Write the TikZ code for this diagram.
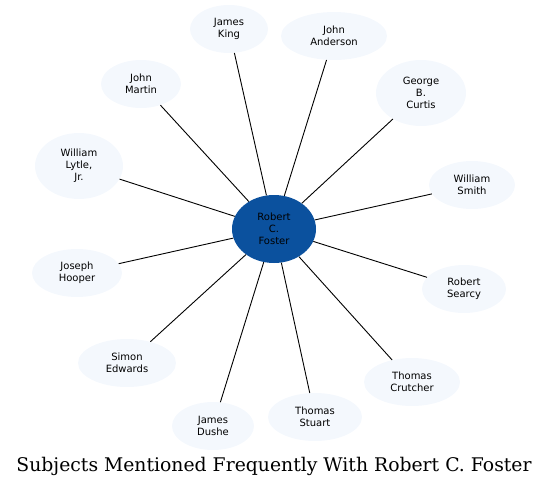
\documentclass[tikz,border=0pt]{standalone}
\usepackage{fontspec}
\usepackage{tikz}
\usepackage{xcolor}
\usetikzlibrary{shapes.geometric}

\newfontfamily\subjfont{DejaVu Sans}
\newfontfamily\captfont{DejaVu Serif}
\definecolor{hubblue}{HTML}{0B519E}
\definecolor{leafblue}{HTML}{F4F8FD}

\tikzset{
  subject/.style={ellipse, fill=leafblue, inner sep=0pt, align=center,
    font=\subjfont\fontsize{10}{12}\selectfont},
  hub/.style={subject, fill=hubblue},
  link/.style={black, line width=0.9pt}
}

\begin{document}
\begin{tikzpicture}[x=1pt,y=-1pt]
  \useasboundingbox (0,0) rectangle (549,488);
  % centre
  \node[hub, minimum width=84, minimum height=68] (foster) at (274,229) {Robert\\C.\\Foster};
  % subjects around it
  \node[subject, minimum width=78, minimum height=48] (king) at (229,29) {James\\King};
  \node[subject, minimum width=106, minimum height=48] (anderson) at (334,36) {John\\Anderson};
  \node[subject, minimum width=90, minimum height=66] (curtis) at (421,93) {George\\B.\\Curtis};
  \node[subject, minimum width=86, minimum height=48] (smith) at (472,185) {William\\Smith};
  \node[subject, minimum width=84, minimum height=48] (searcy) at (464,289) {Robert\\Searcy};
  \node[subject, minimum width=96, minimum height=48] (crutcher) at (412,382) {Thomas\\Crutcher};
  \node[subject, minimum width=94, minimum height=48] (stuart) at (315,417) {Thomas\\Stuart};
  \node[subject, minimum width=82, minimum height=48] (dushe) at (213,426) {James\\Dushe};
  \node[subject, minimum width=98, minimum height=48] (edwards) at (127,363) {Simon\\Edwards};
  \node[subject, minimum width=90, minimum height=48] (hooper) at (77,273) {Joseph\\Hooper};
  \node[subject, minimum width=88, minimum height=66] (lytle) at (79,166) {William\\Lytle,\\Jr.};
  \node[subject, minimum width=80, minimum height=48] (martin) at (141,84) {John\\Martin};
  % links
  \foreach \s in {king,anderson,curtis,smith,searcy,crutcher,stuart,dushe,edwards,hooper,lytle,martin}
    \draw[link] (foster) -- (\s);
  % caption
  \node (caption) at (274,466) {\captfont\fontsize{18.8}{22}\selectfont Subjects Mentioned Frequently With Robert C. Foster};
\end{tikzpicture}
\end{document}
